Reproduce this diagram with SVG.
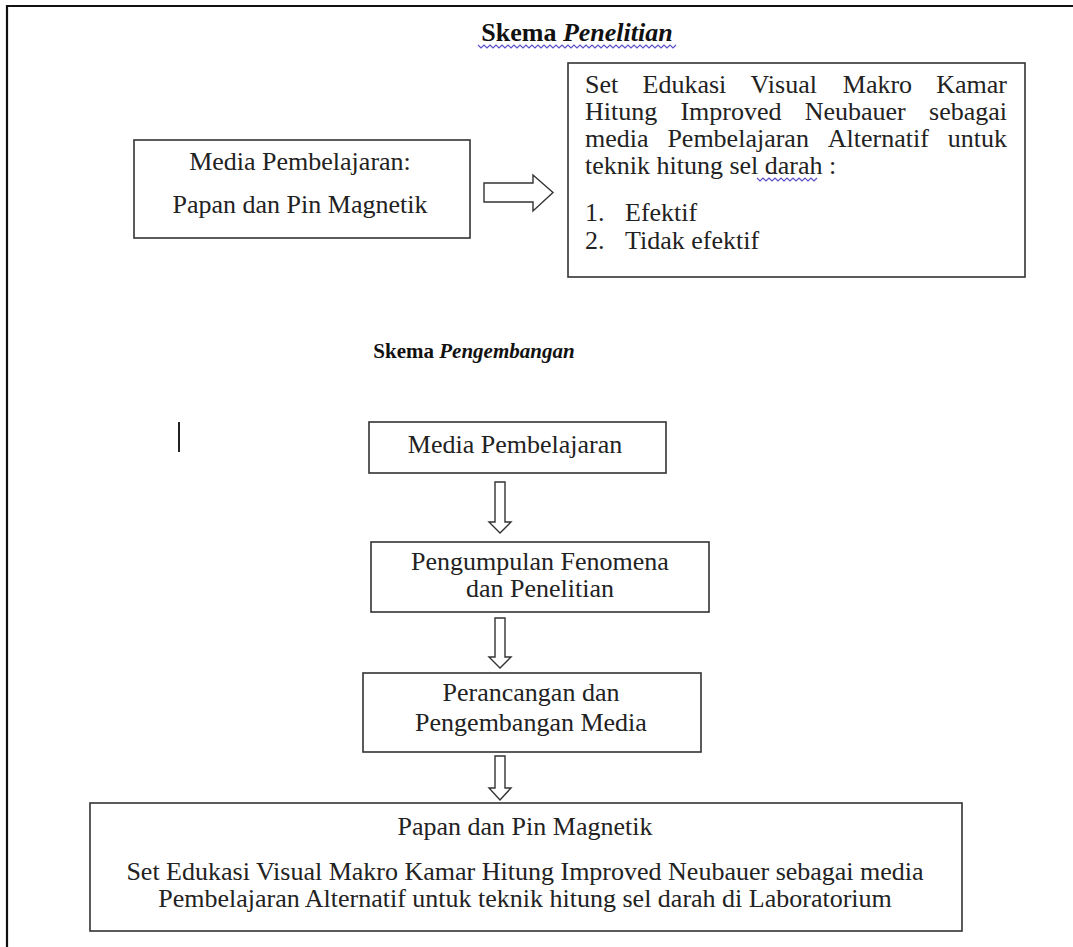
<svg xmlns="http://www.w3.org/2000/svg" width="1073" height="947" viewBox="0 0 1073 947">
<style>
.box{fill:#fff;stroke:#333;stroke-width:1.6}
.arr{fill:#fff;stroke:#333;stroke-width:1.4;stroke-linejoin:miter}
.t{font-family:"Liberation Serif","Times New Roman",serif;font-size:26px;fill:#222}
.c{text-anchor:middle}
.e{text-anchor:end}
.h{font-family:"Liberation Serif","Times New Roman",serif;font-weight:bold;fill:#111}
.sq{fill:none;stroke:#5a50c8;stroke-width:1.2}
</style>
<rect width="1073" height="947" fill="#fff"/>
<g id="frame">
<line x1="6" y1="6" x2="1073" y2="6" stroke="#111" stroke-width="2.2"/>
<line x1="7" y1="5" x2="7" y2="947" stroke="#111" stroke-width="2.2"/>
</g>
<g id="title1">
<text class="h" x="577" y="41" text-anchor="middle" font-size="26">Skema <tspan font-style="italic">Penelitian</tspan></text>
<polyline class="sq" points="478,45 481,48 484,45 487,48 490,45 493,48 496,45 499,48 502,45 505,48 508,45 511,48 514,45 517,48 520,45 523,48 526,45 529,48 532,45 535,48 538,45 541,48 544,45 547,48 550,45 553,48 556,45 559,48 562,45 565,48 568,45 571,48 574,45 577,48 580,45 583,48 586,45 589,48 592,45 595,48 598,45 601,48 604,45 607,48 610,45 613,48 616,45 619,48 622,45 625,48 628,45 631,48 634,45 637,48 640,45 643,48 646,45 649,48 652,45 655,48 658,45 661,48 664,45 667,48 670,45 673,48 676,45"/>
</g>
<g id="node-media-papan">
<rect class="box" x="134" y="140" width="336" height="98"/>
<text class="t c" x="300" y="170">Media Pembelajaran:</text>
<text class="t c" x="300" y="213">Papan dan Pin Magnetik</text>
</g>
<g id="node-set-edukasi">
<rect class="box" x="568" y="63" width="457" height="214"/>
<text class="t" x="585" y="93">Set</text>
<text class="t" x="642.5" y="93">Edukasi</text>
<text class="t" x="750.6" y="93">Visual</text>
<text class="t" x="842.8" y="93">Makro</text>
<text class="t e" x="1007" y="93">Kamar</text>
<text class="t" x="585" y="120">Hitung</text>
<text class="t" x="680.4" y="120">Improved</text>
<text class="t" x="804.7" y="120">Neubauer</text>
<text class="t e" x="1007" y="120">sebagai</text>
<text class="t" x="585" y="147">media</text>
<text class="t" x="667.4" y="147">Pembelajaran</text>
<text class="t" x="827.8" y="147">Alternatif</text>
<text class="t e" x="1007" y="147">untuk</text>
<text class="t" x="585" y="174">teknik hitung sel darah :</text>
<polyline class="sq" points="757,178 760,181 763,178 766,181 769,178 772,181 775,178 778,181 781,178 784,181 787,178 790,181 793,178 796,181 799,178 802,181 805,178 808,181 811,178 814,181 817,178"/>
<text class="t" x="585" y="221">1.</text>
<text class="t" x="625" y="221">Efektif</text>
<text class="t" x="585" y="249">2.</text>
<text class="t" x="625" y="249">Tidak efektif</text>
</g>
<g id="title2">
<text class="h" x="474" y="358" text-anchor="middle" font-size="21">Skema <tspan font-style="italic">Pengembangan</tspan></text>
</g>
<g id="cursor">
<line x1="179" y1="422" x2="179" y2="452" stroke="#222" stroke-width="2"/>
</g>
<g id="node-media">
<rect class="box" x="369" y="422" width="297" height="51"/>
<text class="t c" x="515" y="453">Media Pembelajaran</text>
</g>
<g id="node-pengumpulan">
<rect class="box" x="371" y="542" width="338" height="70"/>
<text class="t c" x="540" y="570">Pengumpulan Fenomena</text>
<text class="t c" x="540" y="597">dan Penelitian</text>
</g>
<g id="node-perancangan">
<rect class="box" x="363" y="673" width="338" height="79"/>
<text class="t c" x="531" y="701">Perancangan dan</text>
<text class="t c" x="531" y="731">Pengembangan Media</text>
</g>
<g id="node-hasil">
<rect class="box" x="90" y="803" width="872" height="128"/>
<text class="t c" x="525" y="835">Papan dan Pin Magnetik</text>
<text class="t c" x="525" y="880">Set Edukasi Visual Makro Kamar Hitung Improved Neubauer sebagai media</text>
<text class="t c" x="525" y="907">Pembelajaran Alternatif untuk teknik hitung sel darah di Laboratorium</text>
</g>
<g id="connectors">
<polygon class="arr" points="484,183 533,183 533,175 553,192.5 533,211 533,202 484,202"/>
<polygon class="arr" points="495,482 505,482 505,522 511,522 500,533 489,522 495,522"/>
<polygon class="arr" points="495,618 505,618 505,657 511,657 500,668 489,657 495,657"/>
<polygon class="arr" points="495,756 505,756 505,788 511,788 500,800 489,788 495,788"/>
</g>
</svg>
